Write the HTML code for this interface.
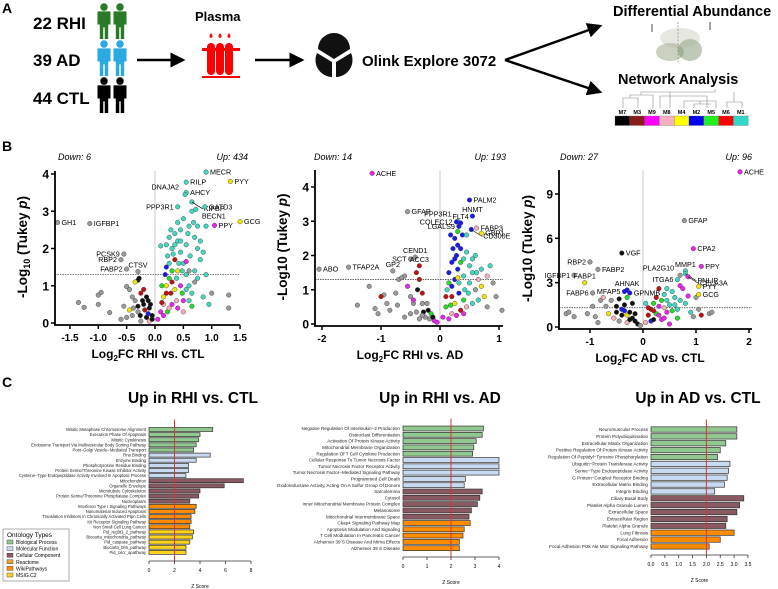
<!DOCTYPE html>
<html><head><meta charset="utf-8">
<style>
html,body{margin:0;padding:0;background:#fff}
svg{display:block;font-family:"Liberation Sans",Arial,sans-serif}
.b{font-weight:bold}
</style></head>
<body>
<svg id="fig" width="778" height="589" viewBox="0 0 778 589" xmlns="http://www.w3.org/2000/svg">
<defs>
<marker id="ah" markerWidth="6" markerHeight="6" refX="5" refY="3" orient="auto"><path d="M0,0 L6,3 L0,6 z" fill="#000"/></marker>
<g id="person"><circle cx="0" cy="-11" r="2.6"/><path d="M-4.5,-8 h9 v9 h-1.6 v10 h-2.4 v-8 h-1 v8 h-2.4 v-10 h-1.6 z"/></g>
</defs>
<g>
<text x="2" y="13" class="b" font-size="14">A</text>
<text x="33" y="29" class="b" font-size="17">22 RHI</text>
<text x="33" y="66" class="b" font-size="17">39 AD</text>
<text x="33" y="104" class="b" font-size="17">44 CTL</text>
<g fill="#2a7a2a"><use href="#person" transform="translate(104,23) scale(1.45)"/><use href="#person" transform="translate(120,23) scale(1.45)"/></g>
<g fill="#29abe2"><use href="#person" transform="translate(104,60) scale(1.45)"/><use href="#person" transform="translate(120,60) scale(1.45)"/></g>
<g fill="#000"><use href="#person" transform="translate(104,97) scale(1.45)"/><use href="#person" transform="translate(120,97) scale(1.45)"/></g>
<line x1="137" y1="60" x2="183" y2="60" stroke="#000" stroke-width="2.5" marker-end="url(#ah)"/>
<text x="195" y="21" class="b" font-size="13">Plasma</text>
<g fill="#f00">
<path d="M211,33 q-3,4 0,5 q3,-1 0,-5z"/><path d="M220,33 q-3,4 0,5 q3,-1 0,-5z"/><path d="M229,33 q-3,4 0,5 q3,-1 0,-5z"/>
<rect x="207" y="43" width="8" height="32" rx="4"/><rect x="216" y="43" width="8" height="32" rx="4"/><rect x="225" y="43" width="8" height="32" rx="4"/>
<rect x="202" y="48" width="38" height="3"/><rect x="202" y="76" width="38" height="2"/>
</g>
<line x1="255" y1="60" x2="302" y2="60" stroke="#000" stroke-width="2.5" marker-end="url(#ah)"/>
<g fill="#111">
<path d="M318,49 a16,16 0 0,1 32,0 l-16,10 z"/><path d="M317,53 l15,9 v15 a17,17 0 0,1 -15,-24z"/><path d="M351,53 l-15,9 v15 a17,17 0 0,0 15,-24z"/>
</g>
<text x="362" y="66" class="b" font-size="15">Olink Explore 3072</text>
<line x1="505" y1="60" x2="600" y2="26" stroke="#000" stroke-width="2.5" marker-end="url(#ah)"/>
<line x1="505" y1="60" x2="600" y2="92" stroke="#000" stroke-width="2.5" marker-end="url(#ah)"/>
<text x="613" y="16" class="b" font-size="14.5">Differential Abundance</text>
<g>
<line x1="678" y1="22" x2="678" y2="62" stroke="#888" stroke-dasharray="2,1.5" stroke-width="0.8"/>
<line x1="652" y1="24" x2="652" y2="32" stroke="#000" stroke-width="0.7"/><line x1="710" y1="22" x2="710" y2="30" stroke="#000" stroke-width="0.7"/>
<ellipse cx="670" cy="52" rx="14" ry="9" fill="#8a9a70" opacity="0.45"/><ellipse cx="690" cy="50" rx="12" ry="11" fill="#6f8860" opacity="0.45"/>
<ellipse cx="680" cy="38" rx="20" ry="10" fill="#b0b0a0" opacity="0.3"/>
</g>
<text x="618" y="84" class="b" font-size="14.5">Network Analysis</text>
<g stroke="#888" stroke-width="0.6" fill="none">
<path d="M623,108 v-10 h15 v10 M630,98 v-3 h23 v13 M641,95 v-3 h29 v16 M655,92 h60 v-3 M660,108 v-12 h47 v12 M684,108 v-7 h32 v7 M694,108 v-4 h17 M700,104 v-3 M727,108 v-6 h15 v6 M734,102 v-10"/>
</g>
<g id="modbar"></g>
</g>

<text x="2" y="151" class="b" font-size="14">B</text>
<g id="volc1"></g>
<g id="volc2"></g>
<g id="volc3"></g>

<text x="2" y="387" class="b" font-size="14">C</text>
<g id="bar1"></g>
<g id="bar2"></g>
<g id="bar3"></g>
<g id="legend"></g>
</svg>
<script>
const NS="http://www.w3.org/2000/svg";
const COL={g:"#9a9a9a",t:"#40d8c0",b:"#1a1aee",r:"#c01010",k:"#111",m:"#ee22ee",y:"#f2e600",p:"#f4b0b8",G:"#22dd22"};

const modules=["M7","M3","M9","M8","M4","M2","M5","M6","M1"];
const moduleColors=["#000","#8b1a1a","#ff00ff","#f8b0c0","#ffff00","#0000ee","#22ee22","#ff0000","#30d8c8"];

const v1Points=[[-1.35,0.55,"g"],[-1.25,0.42,"g"],[-1.0,0.75,"g"],[-0.95,0.82,"g"],[-0.8,0.28,"g"],[-1.0,0.5,"g"],[-0.55,0.45,"g"],[-0.5,0.98,"g"],[-0.45,0.9,"g"],[-0.4,0.7,"g"],[-0.35,0.6,"g"],[-0.3,1.15,"k"],[-0.28,1.2,"k"],[-0.25,0.8,"r"],[-0.2,0.9,"r"],[-0.15,0.7,"k"],[-0.1,0.4,"k"],[-0.2,0.5,"k"],[-0.3,0.3,"g"],[-0.4,0.2,"g"],[-0.5,0.15,"g"],[-0.05,0.2,"k"],[-0.15,0.15,"k"],[-0.25,0.05,"g"],[-0.1,0.05,"p"],[-0.35,1.1,"y"],[-0.6,0.1,"g"],[-0.45,0.35,"y"],[-0.12,0.25,"b"],[-0.22,0.6,"k"],[-0.08,0.5,"k"],[-0.3,0.45,"k"],[-0.18,0.35,"r"],[-0.38,0.4,"g"],[-0.26,0.2,"k"],[-0.05,0.1,"k"],[-0.12,0.6,"k"],
[0.05,0.1,"m"],[0.1,0.3,"m"],[0.15,0.5,"p"],[0.2,0.8,"r"],[0.12,1.0,"G"],[0.18,1.3,"b"],[0.25,1.6,"t"],[0.3,2.0,"t"],[0.35,2.4,"t"],[0.4,2.2,"t"],[0.45,1.9,"t"],[0.5,1.6,"t"],[0.55,1.3,"t"],[0.6,1.0,"t"],[0.65,0.8,"t"],[0.4,2.7,"t"],[0.5,2.8,"t"],[0.6,2.6,"t"],[0.7,2.3,"t"],[0.75,2.0,"t"],[0.8,1.7,"t"],[0.9,1.3,"t"],[0.85,0.7,"t"],[0.95,0.5,"t"],[1.0,0.8,"g"],[1.3,0.75,"g"],[1.3,0.4,"g"],[0.3,1.1,"r"],[0.35,0.9,"y"],[0.25,1.2,"G"],[0.45,1.0,"m"],[0.5,0.6,"m"],[0.3,0.5,"m"],[0.4,1.4,"y"],[0.55,1.65,"m"],[0.2,2.1,"t"],[0.1,2.07,"t"],[0.28,2.5,"t"],[0.45,2.5,"t"],[0.65,3.0,"t"],[0.75,2.6,"t"],[0.9,2.6,"t"],[0.35,1.7,"r"],[0.2,1.5,"b"],[0.5,0.3,"p"],[0.7,1.1,"g"],[0.6,1.4,"g"],[0.15,0.7,"y"],[0.22,0.3,"G"],[0.65,0.45,"G"],[0.32,1.85,"t"],[0.42,1.6,"t"],[0.55,2.1,"t"],[0.38,0.6,"p"],[0.28,0.8,"r"],[0.48,0.8,"G"],[0.62,1.8,"t"],[0.7,1.4,"t"],[0.25,2.3,"t"],[0.35,2.1,"t"],[0.45,2.2,"t"],[0.38,1.2,"t"],[0.48,1.4,"t"],[0.58,2.4,"t"],[0.68,2.7,"t"],[0.8,2.2,"t"],[0.22,1.8,"t"],[0.15,0.2,"m"],[0.25,0.4,"p"],[0.4,0.4,"m"],[0.3,1.4,"G"],[0.55,0.9,"t"],[0.75,1.2,"t"],[0.85,1.9,"t"],[0.6,0.6,"t"],[0.2,1.0,"y"],[0.12,0.55,"r"]];
const v1Labels=[["GH1",-1.72,2.7,"g","r"],["IGFBP1",-1.15,2.67,"g","r"],["PCSK9",-0.55,1.85,"g","l"],["RBP2",-0.6,1.7,"g","l"],["FABP2",-0.5,1.45,"g","l"],["CTSV",-0.3,1.38,"g","a"],["MECR",0.9,4.05,"t","r"],["PYY",1.33,3.8,"y","r"],["RILP",0.55,3.78,"t","r"],["AHCY",0.55,3.5,"t","r"],["DNAJA2",0.53,3.45,"t","L"],["KIFBP",0.65,3.25,"t","R"],["GATD3",0.88,3.12,"t","r"],["PPP3R1",0.4,3.12,"t","l"],["BECN1",0.72,3.05,"t","B"],["PPY",1.05,2.62,"m","r"],["GCG",1.5,2.72,"y","r"]];
const v1Ticks=[-1.5,-1.0,-0.5,0.0,0.5,1.0,1.5];
const v1YTicks=[0,1,2,3,4];

const v2Points=[[-1.4,0.55,"g"],[-1.2,1.1,"g"],[-1.1,0.45,"g"],[-1.05,0.3,"g"],[-0.95,0.85,"g"],[-0.9,0.6,"g"],[-0.85,0.4,"g"],[-0.75,0.9,"g"],[-0.7,1.3,"g"],[-0.72,0.55,"g"],[-0.6,1.4,"g"],[-0.55,1.1,"m"],[-0.5,0.8,"g"],[-0.45,0.6,"g"],[-0.4,1.5,"r"],[-0.35,1.3,"r"],[-0.38,1.0,"k"],[-0.3,0.9,"r"],[-0.3,0.6,"g"],[-0.2,0.4,"k"],[-0.25,0.2,"g"],[-0.15,0.3,"G"],[-0.1,0.1,"m"],[-0.5,0.3,"g"],[-0.6,0.2,"g"],[-0.35,0.15,"g"],[-0.05,0.05,"m"],[-1.0,0.8,"r"],[-0.45,0.7,"m"],[-0.65,1.35,"g"],[-0.28,0.35,"k"],[-0.18,0.15,"g"],[-0.4,0.35,"g"],[-0.3,0.25,"g"],[-0.12,0.2,"k"],[-0.22,0.6,"g"],
[0.05,0.2,"m"],[0.1,0.5,"G"],[0.12,1.0,"t"],[0.15,1.5,"b"],[0.2,1.8,"b"],[0.22,2.2,"b"],[0.25,2.5,"b"],[0.28,2.0,"b"],[0.3,1.6,"b"],[0.3,2.3,"b"],[0.32,1.2,"t"],[0.35,1.8,"G"],[0.38,2.6,"b"],[0.4,1.4,"t"],[0.42,1.0,"t"],[0.45,2.1,"t"],[0.5,1.7,"t"],[0.5,1.2,"t"],[0.55,1.5,"t"],[0.6,1.0,"g"],[0.65,1.3,"p"],[0.7,1.1,"y"],[0.75,0.8,"y"],[0.8,1.4,"p"],[0.85,1.7,"t"],[0.9,1.2,"g"],[0.95,0.8,"g"],[1.05,0.4,"g"],[0.2,0.8,"r"],[0.15,1.2,"G"],[0.25,0.6,"y"],[0.35,0.4,"r"],[0.4,0.7,"G"],[0.55,0.6,"t"],[0.2,0.3,"p"],[0.18,2.6,"b"],[0.3,2.7,"G"],[0.45,2.6,"t"],[0.6,2.0,"t"],[0.7,1.6,"t"],[0.8,0.5,"g"],[0.25,1.3,"b"],[0.35,2.2,"b"],[0.4,0.3,"m"],[0.15,0.15,"m"],[0.2,1.1,"b"],[0.25,1.9,"b"],[0.32,0.9,"b"],[0.4,1.9,"t"],[0.48,0.9,"t"],[0.55,1.9,"t"],[0.62,1.5,"t"],[0.1,0.8,"r"],[0.18,0.55,"G"],[0.28,0.25,"m"],[0.3,1.35,"y"],[0.45,0.5,"p"],[0.65,0.7,"t"]];
const v2Labels=[["ACHE",-1.15,4.4,"m","r"],["GFAP",-0.55,3.28,"g","r"],["ABO",-2.05,1.6,"g","r"],["TFAP2A",-1.55,1.66,"g","r"],["GP2",-0.8,1.55,"g","a"],["SCT",-0.5,1.9,"g","l"],["CEND1",-0.42,1.95,"g","a"],["ACC3",-0.35,1.7,"r","a"],["PALM2",0.5,3.62,"b","r"],["PPP3R1",0.3,3.0,"t","L"],["FLT4",0.35,2.95,"b","a"],["HNMT",0.55,3.15,"b","a"],["COLEC12",0.28,2.98,"b","l"],["LGALS9",0.32,2.85,"b","l"],["CD300E",0.53,2.76,"b","R"],["FABP3",0.62,2.8,"p","r"],["GBP1",0.7,2.65,"y","r"]];
const v2Ticks=[-2,-1,0,1];
const v2YTicks=[0,1,2,3,4];

const v3Points=[[-1.45,0.9,"g"],[-1.4,1.0,"g"],[-1.3,0.7,"g"],[-1.05,0.9,"g"],[-0.95,1.4,"g"],[-0.9,0.7,"g"],[-0.85,0.3,"g"],[-0.8,1.8,"g"],[-0.75,2.0,"p"],[-0.7,1.4,"g"],[-0.6,1.8,"g"],[-0.5,1.4,"k"],[-0.45,1.9,"k"],[-0.4,1.2,"b"],[-0.35,1.5,"k"],[-0.3,0.8,"y"],[-0.25,1.0,"k"],[-0.2,0.6,"k"],[-0.15,0.4,"k"],[-0.1,0.2,"k"],[-0.55,0.6,"p"],[-0.65,0.9,"y"],[-0.45,0.4,"g"],[-0.3,2.0,"G"],[-0.2,1.6,"k"],[-0.05,0.1,"g"],[-0.4,0.8,"k"],[-0.3,0.3,"p"],[-0.35,1.1,"b"],[-0.25,0.5,"k"],[-0.15,0.9,"k"],[-0.5,1.0,"k"],
[0.05,0.3,"p"],[0.1,0.8,"r"],[0.15,1.2,"r"],[0.2,1.6,"G"],[0.25,2.0,"r"],[0.3,1.4,"m"],[0.35,1.8,"G"],[0.4,2.2,"t"],[0.45,1.0,"m"],[0.5,1.5,"t"],[0.55,2.4,"t"],[0.6,2.0,"t"],[0.65,1.2,"t"],[0.7,2.8,"m"],[0.75,2.6,"m"],[0.8,1.6,"t"],[0.85,2.1,"m"],[0.9,1.0,"t"],[0.95,0.7,"g"],[1.0,2.0,"g"],[1.05,1.2,"g"],[1.1,0.8,"r"],[1.25,0.9,"g"],[1.3,1.0,"g"],[0.35,0.5,"m"],[0.25,0.9,"G"],[0.5,0.2,"m"],[0.05,1.6,"t"],[0.3,2.6,"r"],[0.45,2.6,"t"],[0.15,0.4,"b"],[0.65,0.6,"G"],[0.4,1.3,"p"],[0.2,0.5,"k"],[0.2,1.1,"r"],[0.3,0.8,"m"],[0.4,0.6,"m"],[0.45,1.8,"t"],[0.55,1.1,"G"],[0.6,1.5,"t"],[0.7,1.8,"t"],[0.1,1.3,"r"]];
const v3Labels=[["ACHE",1.83,10.5,"m","r"],["GFAP",0.78,7.2,"g","r"],["CPA2",0.95,5.3,"m","r"],["VGF",-0.4,5.0,"k","r"],["RBP2",-1.0,4.4,"g","l"],["FABP2",-0.85,3.9,"g","r"],["MMP1",0.8,3.8,"t","a"],["PPY",1.1,4.1,"m","r"],["PNLIP",0.8,3.6,"t","R"],["PLA2G10",0.7,3.5,"g","L"],["CELA3A",0.85,3.4,"m","R"],["ITGA6",0.65,3.2,"t","l"],["IGFBP1",-1.3,3.5,"g","l"],["FABP1",-1.1,3.0,"y","a"],["AHNAK",-0.3,2.5,"b","a"],["MFAP5",-0.35,2.4,"b","l"],["GPNMB",-0.25,2.3,"b","r"],["FABP6",-0.95,2.3,"g","l"],["PYY",1.05,2.75,"y","r"],["GCG",1.05,2.2,"y","r"]];
const v3Ticks=[-1,0,1,2];
const v3YTicks=[0,3,6,9];

const catColors={BP:"#90c890",MF:"#c8daf2",CC:"#8a5a62",RE:"#e8a030",WP:"#ff8c00",MS:"#ffd21c"};
const b1Terms=["Mitotic Metaphase Chromosome Alignment","Execution Phase Of Apoptosis","Mitotic Cytokinesis","Endosome Transport Via Multivesicular Body Sorting Pathway","Post−Golgi Vesicle−Mediated Transport","Rna Binding","Enzyme Binding","Phosphotyrosine Residue Binding","Protein Serine/Threonine Kinase Inhibitor Activity","Cysteine−Type Endopeptidase Activity Involved In Apoptotic Process","Mitochondrion","Organelle Envelope","Microtubule Cytoskeleton","Protein Serine/Threonine Phosphatase Complex","Nucleoplasm","Interferon Type I Signaling Pathways","Nanomaterial Induced Apoptosis","Translation Inhibitors In Chronically Activated Ptpn Cells","Kit Receptor Signaling Pathway","Non Small Cell Lung Cancer","Pid_reg9t1_2_pathway","Biocarta_mitochondria_pathway","Pid_caspase_pathway","Biocarta_bfm_pathway","Pid_rxlcr_apathway"];
const b1Values=[5.0,4.0,3.9,3.7,3.5,4.8,3.7,3.1,3.1,2.9,7.4,5.9,4.0,3.9,3.2,3.7,3.6,3.3,3.3,3.2,3.5,3.4,3.2,2.9,2.9];
const b1Cats=["BP","BP","BP","BP","BP","MF","MF","MF","MF","MF","CC","CC","CC","CC","CC","WP","WP","WP","WP","WP","MS","MS","MS","MS","MS"];
const b1Ticks=[0,2,4,6,8];

const b2Terms=["Negative Regulation Of Interleukin−2 Production","Osteoclast Differentiation","Activation Of Protein Kinase Activity","Mitochondrial Membrane Organization","Regulation Of T Cell Cytokine Production","Cellular Response To Tumor Necrosis Factor","Tumor Necrosis Factor Receptor Activity","Tumor Necrosis Factor−Mediated Signaling Pathway","Programmed Cell Death","Oxidoreductase Activity, Acting On A Sulfur Group Of Donors","Sarcolemma","Cytosol","Inner Mitochondrial Membrane Protein Complex","Melanosome","Mitochondrial Intermembrane Space","Ckap4 Signaling Pathway Map","Apoptosis Modulation And Signaling","T Cell Modulation In Pancreatic Cancer","Alzheimer 39 S Disease And Mirna Effects","Alzheimer 39 S Disease"];
const b2Values=[3.35,3.3,3.05,2.95,2.9,4.0,4.0,4.0,2.6,2.55,3.3,3.2,3.1,2.85,2.75,2.8,2.55,2.5,2.35,2.35];
const b2Cats=["BP","BP","BP","BP","BP","MF","MF","MF","MF","MF","CC","CC","CC","CC","CC","WP","WP","WP","WP","WP"];
const b2Ticks=[0,1,2,3,4];

const b3Terms=["Neuromuscular Process","Protein Polyubiquitination","Extracellular Matrix Organization","Positive Regulation Of Protein Kinase Activity","Regulation Of Peptidyl−Tyrosine Phosphorylation","Ubiquitin−Protein Transferase Activity","Serine−Type Endopeptidase Activity","G Protein−Coupled Receptor Binding","Extracellular Matrix Binding","Integrin Binding","Ciliary Basal Body","Platelet Alpha Granule Lumen","Extracellular Space","Extracellular Region","Platelet Alpha Granule","Lung Fibrosis","Focal Adhesion","Focal Adhesion Pi3k Akt Mtor Signaling Pathway"];
const b3Values=[3.1,3.1,2.7,2.5,2.4,2.85,2.8,2.75,2.65,2.3,3.35,3.2,3.1,2.75,2.7,3.0,2.5,2.1];
const b3Cats=["BP","BP","BP","BP","BP","MF","MF","MF","MF","MF","CC","CC","CC","CC","CC","WP","WP","WP"];
const b3Ticks=["0.0","0.5","1.0","1.5","2.0","2.5","3.0","3.5"];

const legendNames=["Biological Process","Molecular Function","Cellular Component","Reactome","WikiPathways","MSIG.C2"];
const legendKeys=["BP","MF","CC","RE","WP","MS"];

function mk(tag,attrs,parent,text){const e=document.createElementNS(NS,tag);for(const k in attrs)e.setAttribute(k,attrs[k]);if(text!==undefined)e.textContent=text;parent.appendChild(e);return e;}

(function(){
 const g=document.getElementById('modbar');
 const x0=615,w=14.8;
 modules.forEach((m,i)=>{
  const r=mk('rect',{x:x0+i*w,y:116,width:w,height:9.5,fill:moduleColors[i],stroke:"#666","stroke-width":0.3},g);
  
  
  const t=mk('text',{x:x0+i*w+w/2,y:114,"font-size":5.5,"font-weight":"bold","text-anchor":"middle"},g,m);
  
  
 });
})();

function volcano(id,cfg){
 const g=document.getElementById(id);
 const X=v=>cfg.x0+v*cfg.px, Y=v=>cfg.y0-v*cfg.py;
 const d=mk('text',{x:cfg.dx,y:160,"font-size":9,"font-style":"italic"},g,cfg.down);
 
 
 const u=mk('text',{x:cfg.ux,y:160,"font-size":9,"font-style":"italic","text-anchor":"end"},g,cfg.up);
 
 
 mk('line',{x1:X(0),x2:X(0),y1:cfg.ytop,y2:cfg.y0,stroke:"#bbb","stroke-width":0.8},g);
 const th=mk('line',{x1:cfg.ax,x2:cfg.axEnd,y1:Y(1.3),y2:Y(1.3),stroke:"#333","stroke-width":0.7,"stroke-dasharray":"1.5,1"},g);
 
 
 cfg.pts.forEach(p=>{
  const c=mk('circle',{cx:X(p[0]),cy:Y(p[1]),r:2.3,fill:COL[p[2]],stroke:"#333","stroke-width":0.4},g);
  
  
 });
 cfg.labels.forEach(l=>{
  const cx=X(l[1]),cy=Y(l[2]);
  const c=mk('circle',{cx:cx,cy:cy,r:2.3,fill:COL[l[3]],stroke:"#333","stroke-width":0.4},g);
  
  
  let tx=cx+4,ty=cy+2.5,anc="start";
  if(l[4]==="l"){tx=cx-4;anc="end";}
  if(l[4]==="a"){tx=cx;ty=cy-4;anc="middle";}
  if(l[4]==="L"){tx=cx-6;ty=cy-5;anc="end";}
  if(l[4]==="R"){tx=cx+12;ty=cy+9;anc="start";mk('line',{x1:cx,y1:cy,x2:cx+11,y2:cy+7,stroke:"#000","stroke-width":0.6},g);}
  if(l[4]==="B"){tx=cx+6;ty=cy+9;}
  const t=mk('text',{x:tx,y:ty,"font-size":7.2,"text-anchor":anc},g,l[0]);
  
  
 });
 mk('line',{x1:cfg.ax,x2:cfg.ax,y1:cfg.ytop,y2:cfg.y0+2,stroke:"#000","stroke-width":1.8},g);
 mk('line',{x1:cfg.ax-1,x2:cfg.axEnd,y1:cfg.y0+2,y2:cfg.y0+2,stroke:"#000","stroke-width":1.8},g);
 cfg.yt.forEach(v=>{
  mk('line',{x1:cfg.ax-4,x2:cfg.ax,y1:Y(v),y2:Y(v),stroke:"#000","stroke-width":1.5},g);
  const t=mk('text',{x:cfg.ax-6,y:Y(v)+4.5,"font-size":12,"font-weight":"bold","text-anchor":"end"},g,String(v));
  
  
 });
 cfg.xt.forEach(v=>{
  mk('line',{x1:X(v),x2:X(v),y1:cfg.y0+2,y2:cfg.y0+6,stroke:"#000","stroke-width":1.5},g);
  const s=typeof v==="number"&&cfg.dec?v.toFixed(1):String(v);
  const t=mk('text',{x:X(v),y:cfg.y0+18,"font-size":10,"font-weight":"bold","text-anchor":"middle"},g,s);
  
  
 });
 const xt=mk('text',{x:cfg.xtx,y:cfg.y0+35,"font-size":12,"font-weight":"bold","text-anchor":"middle"},g);
 xt.innerHTML='Log<tspan font-size="8" dy="3">2</tspan><tspan dy="-3">FC '+cfg.xtitle+'</tspan>';
 
 
 const yt=mk('text',{transform:`translate(${cfg.ytx},${(cfg.ytop+cfg.y0)/2}) rotate(-90)`,"font-size":13.5,"font-weight":"bold","text-anchor":"middle"},g);
 yt.innerHTML=cfg.sub?'-Log<tspan font-size="9" dy="3">10</tspan><tspan dy="-3"> (Tukey </tspan><tspan font-style="italic">p</tspan>)':'-Log10 (Tukey <tspan font-style="italic">p</tspan>)';
 
 
}
volcano('volc1',{pts:v1Points,labels:v1Labels,xt:v1Ticks,yt:v1YTicks,x0:155,px:56.7,y0:323,py:37.25,ax:55,axEnd:240,ytop:171,dec:true,dx:58,ux:248,down:"Down: 6",up:"Up: 434",xtitle:"RHI vs. CTL",xtx:148,ytx:27,sub:true});
volcano('volc2',{pts:v2Points,labels:v2Labels,xt:v2Ticks,yt:v2YTicks,x0:440,px:59,y0:324,py:34.25,ax:315,axEnd:503,ytop:170,dec:false,dx:314,ux:506,down:"Down: 14",up:"Up: 193",xtitle:"RHI vs. AD",xtx:410,ytx:287,sub:false});
volcano('volc3',{pts:v3Points,labels:v3Labels,xt:v3Ticks,yt:v3YTicks,x0:643,px:53,y0:327,py:14.78,ax:559,axEnd:752,ytop:170,dec:false,dx:560,ux:752,down:"Down: 27",up:"Up: 96",xtitle:"AD vs. CTL",xtx:650,ytx:532,sub:false});

function bars(id,cfg){
 const g=document.getElementById(id);
 const X=v=>cfg.x0+v*cfg.px;
 const t=mk('text',{x:cfg.tx,y:403,"font-size":15.5,"font-weight":"bold","text-anchor":"middle"},g,cfg.title);
 
 
 const h=cfg.step*0.78;
 cfg.terms.forEach((term,i)=>{
  const yc=cfg.y0+i*cfg.step;
  const r=mk('rect',{x:X(0),y:yc-h/2,width:cfg.vals[i]*cfg.px,height:h,fill:catColors[cfg.cats[i]],stroke:"#333","stroke-width":0.7},g);
  
  
  const l=mk('text',{x:X(0)-3,y:yc+1.6,"font-size":cfg.fs,"text-anchor":"end",fill:"#222"},g,term);
  
  
 });
 const rl=mk('line',{x1:X(2),x2:X(2),y1:cfg.y0-10,y2:cfg.axy+1,stroke:"#d33","stroke-width":1},g);
 
 
 const first=parseFloat(cfg.ticks[0]),last=parseFloat(cfg.ticks[cfg.ticks.length-1]);
 mk('line',{x1:X(first),x2:X(last),y1:cfg.axy,y2:cfg.axy,stroke:"#333","stroke-width":0.8},g);
 cfg.ticks.forEach(v=>{
  const xv=X(parseFloat(v));
  mk('line',{x1:xv,x2:xv,y1:cfg.axy,y2:cfg.axy+3,stroke:"#333","stroke-width":0.8},g);
  const tl=mk('text',{x:xv,y:cfg.axy+11,"font-size":5,"text-anchor":"middle"},g,String(v));
  
  
 });
 const zt=mk('text',{x:(X(first)+X(last))/2,y:cfg.axy+27,"font-size":5,"text-anchor":"middle"},g,"Z Score");
 
 
}
bars('bar1',{terms:b1Terms,vals:b1Values,cats:b1Cats,ticks:b1Ticks,x0:149,px:12.75,y0:429.5,step:5.12,axy:561,title:"Up in RHI vs. CTL",tx:193,fs:4.2});
bars('bar2',{terms:b2Terms,vals:b2Values,cats:b2Cats,ticks:b2Ticks,x0:403,px:24,y0:428.5,step:6.3,axy:557,title:"Up in RHI vs. AD",tx:440,fs:4.6});
bars('bar3',{terms:b3Terms,vals:b3Values,cats:b3Cats,ticks:b3Ticks,x0:651,px:27.7,y0:429.5,step:6.88,axy:555,title:"Up in AD vs. CTL",tx:698,fs:4.6});

(function(){
 const g=document.getElementById('legend');
 mk('rect',{x:3,y:529,width:66,height:52,fill:"#fff",stroke:"#888","stroke-width":0.7},g);
 const t=mk('text',{x:7,y:537,"font-size":6.5},g,"Ontology Types");
 
 
 legendNames.forEach((n,i)=>{
  const y=540+i*6.6;
  const s=mk('rect',{x:7,y:y,width:6,height:4,fill:catColors[legendKeys[i]],stroke:"#333","stroke-width":0.4},g);
  
  
  const l=mk('text',{x:16,y:y+4,"font-size":5},g,n);
  
  
 });
})();
</script>
</body></html>
